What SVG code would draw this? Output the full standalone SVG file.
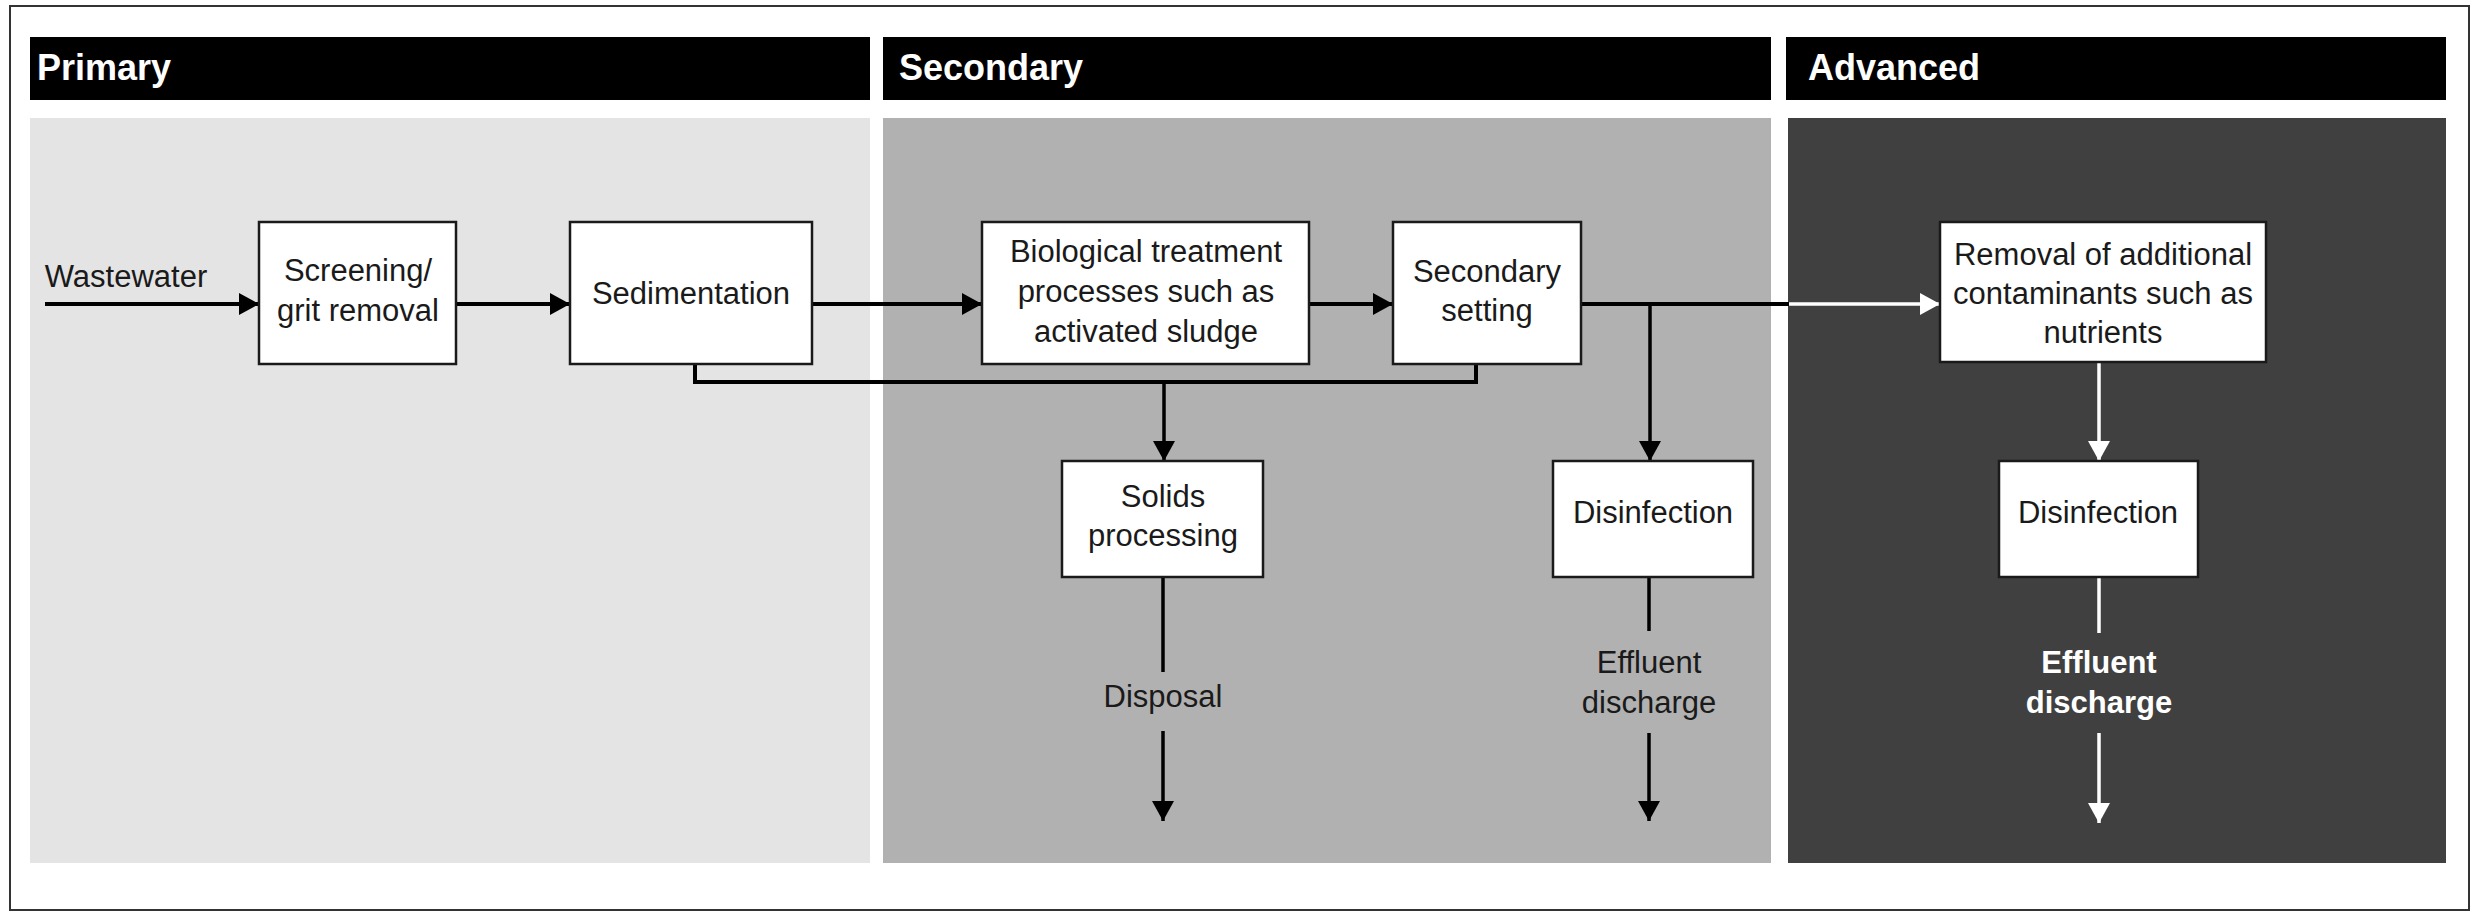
<svg xmlns="http://www.w3.org/2000/svg" width="2473" height="912" viewBox="0 0 2473 912">
<style>
.hdr{fill:#000}
.htxt{font-family:"Liberation Sans",Arial,sans-serif;font-weight:bold;font-size:36px;fill:#fff}
.box{fill:#fff;stroke:#1a1a1a;stroke-width:2.5}
.t{font-family:"Liberation Sans",Arial,sans-serif;font-size:31px;fill:#1a1a1a;text-anchor:middle}
.tw{font-family:"Liberation Sans",Arial,sans-serif;font-size:31px;font-weight:bold;fill:#fff;text-anchor:middle}
.ln{fill:none;stroke:#000;stroke-width:4}
.lv{fill:none;stroke:#000;stroke-width:3.5}
.lw{fill:none;stroke:#fff;stroke-width:3.5}
</style>
<defs>
<marker id="ab" markerUnits="userSpaceOnUse" markerWidth="22" markerHeight="22" refX="20" refY="11" orient="auto">
<path d="M0,0 L20,11 L0,22 z" fill="#000"/>
</marker>
<marker id="aw" markerUnits="userSpaceOnUse" markerWidth="22" markerHeight="22" refX="20" refY="11" orient="auto">
<path d="M0,0 L20,11 L0,22 z" fill="#fff"/>
</marker>
</defs>
<rect x="0" y="0" width="2473" height="912" fill="#fff"/>
<rect x="10" y="6" width="2459" height="904" fill="#fff" stroke="#333" stroke-width="2"/>
<g id="panels">
<rect x="30" y="118" width="840" height="745" fill="#e4e4e4"/>
<rect x="883" y="118" width="888" height="745" fill="#b1b1b1"/>
<rect x="1788" y="118" width="658" height="745" fill="#404040"/>
</g>
<g id="headers">
<rect class="hdr" x="30" y="37" width="840" height="63"/>
<rect class="hdr" x="883" y="37" width="888" height="63"/>
<rect class="hdr" x="1786" y="37" width="660" height="63"/>
<text class="htxt" x="37" y="80">Primary</text>
<text class="htxt" x="899" y="80">Secondary</text>
<text class="htxt" x="1808" y="80">Advanced</text>
</g>
<g id="connectors">
<line class="ln" x1="45" y1="304" x2="259" y2="304" marker-end="url(#ab)"/>
<line class="ln" x1="456" y1="304" x2="570" y2="304" marker-end="url(#ab)"/>
<line class="ln" x1="812" y1="304" x2="982" y2="304" marker-end="url(#ab)"/>
<line class="ln" x1="1309" y1="304" x2="1393" y2="304" marker-end="url(#ab)"/>
<line class="ln" x1="1581" y1="304" x2="1789" y2="304"/>
<line class="lw" x1="1789" y1="304" x2="1940" y2="304" stroke-width="4" marker-end="url(#aw)"/>
<line class="lv" x1="1650" y1="304" x2="1650" y2="461" marker-end="url(#ab)"/>
<path class="ln" d="M695,364 V382 H1476 V364"/>
<line class="lv" x1="1164" y1="382" x2="1164" y2="461" marker-end="url(#ab)"/>
<line class="lv" x1="1163" y1="577" x2="1163" y2="672"/>
<line class="lv" x1="1163" y1="731" x2="1163" y2="821" marker-end="url(#ab)"/>
<line class="lv" x1="1649" y1="577" x2="1649" y2="631"/>
<line class="lv" x1="1649" y1="733" x2="1649" y2="821" marker-end="url(#ab)"/>
<line class="lw" x1="2099" y1="362" x2="2099" y2="461" marker-end="url(#aw)"/>
<line class="lw" x1="2099" y1="577" x2="2099" y2="633"/>
<line class="lw" x1="2099" y1="733" x2="2099" y2="823" marker-end="url(#aw)"/>
</g>
<g id="wastewater"><text class="t" x="126" y="287">Wastewater</text></g>
<g id="screening">
<rect class="box" x="259" y="222" width="197" height="142"/>
<text class="t" x="358" y="281">Screening/</text>
<text class="t" x="358" y="321">grit removal</text>
</g>
<g id="sedimentation">
<rect class="box" x="570" y="222" width="242" height="142"/>
<text class="t" x="691" y="304">Sedimentation</text>
</g>
<g id="biological">
<rect class="box" x="982" y="222" width="327" height="142"/>
<text class="t" x="1146" y="262">Biological treatment</text>
<text class="t" x="1146" y="302">processes such as</text>
<text class="t" x="1146" y="342">activated sludge</text>
</g>
<g id="secondary-setting">
<rect class="box" x="1393" y="222" width="188" height="142"/>
<text class="t" x="1487" y="282">Secondary</text>
<text class="t" x="1487" y="321">setting</text>
</g>
<g id="removal">
<rect class="box" x="1940" y="222" width="326" height="140"/>
<text class="t" x="2103" y="265">Removal of additional</text>
<text class="t" x="2103" y="304">contaminants such as</text>
<text class="t" x="2103" y="343">nutrients</text>
</g>
<g id="solids">
<rect class="box" x="1062" y="461" width="201" height="116"/>
<text class="t" x="1163" y="507">Solids</text>
<text class="t" x="1163" y="546">processing</text>
</g>
<g id="disinfection-secondary">
<rect class="box" x="1553" y="461" width="200" height="116"/>
<text class="t" x="1653" y="523">Disinfection</text>
</g>
<g id="disinfection-advanced">
<rect class="box" x="1999" y="461" width="199" height="116"/>
<text class="t" x="2098" y="523">Disinfection</text>
</g>
<g id="disposal"><text class="t" x="1163" y="707">Disposal</text></g>
<g id="effluent-secondary">
<text class="t" x="1649" y="673">Effluent</text>
<text class="t" x="1649" y="713">discharge</text>
</g>
<g id="effluent-advanced">
<text class="tw" x="2099" y="673">Effluent</text>
<text class="tw" x="2099" y="713">discharge</text>
</g>
</svg>
